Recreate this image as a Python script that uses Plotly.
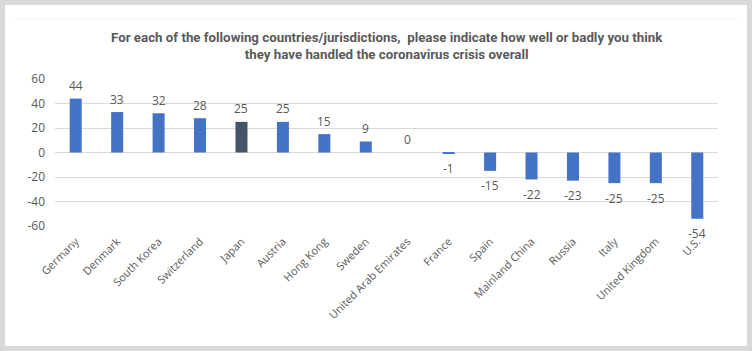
import plotly.graph_objects as go

categories = ["Germany", "Denmark", "South Korea", "Switzerland", "Japan", "Austria",
              "Hong Kong", "Sweden", "United Arab Emirates", "France", "Spain",
              "Mainland China", "Russia", "Italy", "United Kingdom", "U.S."]
values = [44, 33, 32, 28, 25, 25, 15, 9, 0, -1, -15, -22, -23, -25, -25, -54]
highlight = "Japan"
y_ticks = [-60, -40, -20, 0, 20, 40, 60]

title_text = ("<b>For each of the following countries/jurisdictions,  please indicate how well or badly you think"
              "<br>they have handled the coronavirus crisis overall</b>")

W, H = 752, 351
L, R, T, B = 55, 34, 79, 125
pw, ph = W - L - R, H - T - B

def px_x(p):
    return (p - L) / pw

def px_y(p):
    return (H - B - p) / ph

colors = ["#44546A" if c == highlight else "#4472C4" for c in categories]

fig = go.Figure(go.Bar(x=categories, y=values, marker=dict(color=colors, line=dict(width=0)),
                       hoverinfo="x+y"))

annotations = []
for c, v in zip(categories, values):
    annotations.append(dict(x=c, y=v, xref="x", yref="y", text=str(v), showarrow=False,
                            yshift=13 if v >= 0 else -15,
                            font=dict(family="Open Sans", size=12, color="#595959")))
annotations.append(dict(x=0.5, y=px_y(46), xref="paper", yref="paper", text=title_text,
                        showarrow=False, xanchor="center", yanchor="middle",
                        font=dict(family="Roboto", size=13.3, color="#595959"),
                        align="center"))

fig.update_layout(
    width=W, height=H,
    margin=dict(l=L, r=R, t=T, b=B),
    paper_bgcolor="#d9d9d9",
    plot_bgcolor="rgba(0,0,0,0)",
    bargap=0.71,
    showlegend=False,
    annotations=annotations,
    shapes=[
        dict(type="rect", xref="paper", yref="paper", x0=px_x(5), x1=px_x(747), y0=px_y(346), y1=px_y(5),
             fillcolor="white", line=dict(width=0), layer="below"),
        dict(type="line", xref="paper", yref="paper", x0=px_x(15), x1=px_x(737), y0=px_y(19), y1=px_y(19),
             line=dict(color="#f0f0f0", width=1), layer="below"),
    ],
    xaxis=dict(tickangle=-45, tickfont=dict(family="Open Sans", size=11, color="#595959"),
               showgrid=False, showline=False, ticks="", fixedrange=True, ticklabelstandoff=6),
    yaxis=dict(range=[-60, 60], tickvals=y_ticks, ticktext=[str(t) for t in y_ticks],
               showgrid=True, gridcolor="#d9d9d9", gridwidth=1,
               zeroline=True, zerolinecolor="#d9d9d9", zerolinewidth=1,
               tickfont=dict(family="Open Sans", size=12, color="#595959"), ticks="", showline=False,
               fixedrange=True, ticklabelstandoff=9),
)

fig.write_html("out.html")
